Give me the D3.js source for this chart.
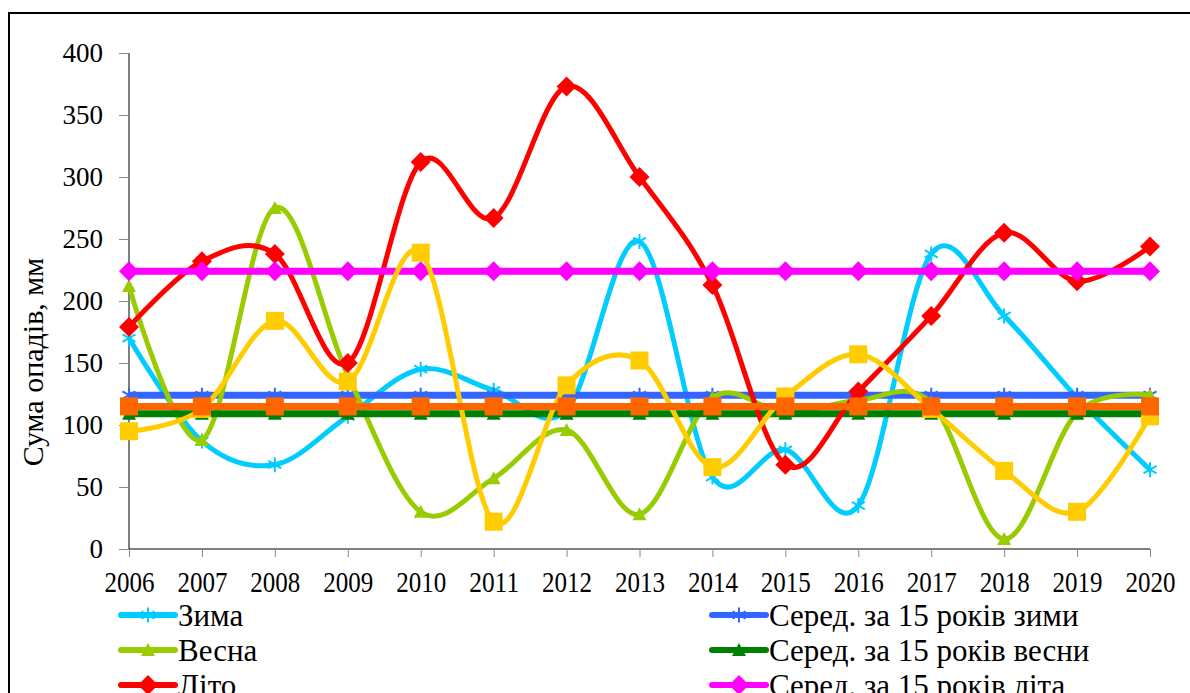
<!DOCTYPE html>
<html>
<head>
<meta charset="utf-8">
<script src="https://cdn.jsdelivr.net/npm/d3@7"></script>
<style>
  body { margin: 0; background: #fff; overflow: hidden; }
</style>
</head>
<body>
<div id="chart"></div>
<script>
// precipitation by season, 2006-2020
const years = ['2006', '2007', '2008', '2009', '2010', '2011', '2012', '2013',
  '2014', '2015', '2016', '2017', '2018', '2019', '2020'];

const zyma = [170, 87, 68, 107, 145, 128, 112, 248, 58, 80, 35, 238, 188, 122, 64];
const vesna = [212, 88, 275, 140, 30, 57, 96, 28, 122, 110, 120, 118, 8, 110, 124];
const lito = [179, 232, 238, 150, 312, 267, 373, 300, 213, 68, 127, 188, 255, 216, 244];
const osin = [95, 113, 184, 135, 239, 22, 132, 152, 66, 123, 157, 113, 63, 30, 107];

const avgZyma = [124, 124, 124, 124, 124, 124, 124, 124, 124, 124, 124, 124, 124, 124, 124];
const avgVesna = [109, 109, 109, 109, 109, 109, 109, 109, 109, 109, 109, 109, 109, 109, 109];
const avgLito = [224, 224, 224, 224, 224, 224, 224, 224, 224, 224, 224, 224, 224, 224, 224];
const avgOsin = [115, 115, 115, 115, 115, 115, 115, 115, 115, 115, 115, 115, 115, 115, 115];

const yTicks = [0, 50, 100, 150, 200, 250, 300, 350, 400];

// drawing order as in the original workbook
const series = [
  { name: 'Зима', values: zyma, color: '#00CCFF', marker: 'star', width: 5 },
  { name: 'Серед. за 15 років зими', values: avgZyma, color: '#3366FF', marker: 'star', width: 7 },
  { name: 'Весна', values: vesna, color: '#99CC00', marker: 'triangle', width: 5 },
  { name: 'Серед. за 15 років весни', values: avgVesna, color: '#008000', marker: 'triangle', width: 7 },
  { name: 'Літо', values: lito, color: '#FF0000', marker: 'diamond', width: 5 },
  { name: 'Серед. за 15 років літа', values: avgLito, color: '#FF00FF', marker: 'diamond', width: 7 },
  { name: 'Осінь', values: osin, color: '#FFCC00', marker: 'square', width: 5 },
  { name: 'Серед. за 15 років осені', values: avgOsin, color: '#FF6600', marker: 'square', width: 7 }
];

const legendLeft = ['Зима', 'Весна', 'Літо'];
const legendRight = ['Серед. за 15 років зими', 'Серед. за 15 років весни', 'Серед. за 15 років літа'];

const FONT = "'Liberation Serif'";

const width = 1190;
const height = 693;
const plot = { left: 129, right: 1150, top: 53, bottom: 549 };

const svg = d3.select('#chart').append('svg')
  .attr('width', width)
  .attr('height', height);

// chart area border (runs off the right and bottom edge)
svg.append('rect')
  .attr('x', 9).attr('y', 13)
  .attr('width', 1200).attr('height', 700)
  .attr('fill', '#fff')
  .attr('stroke', '#000')
  .attr('stroke-width', 2);

const x = d3.scalePoint()
  .domain(years)
  .range([plot.left, plot.right]);

const y = d3.scaleLinear()
  .domain([0, 400])
  .range([plot.bottom, plot.top]);

// y axis
const yAxis = svg.append('g')
  .attr('transform', 'translate(' + plot.left + ',0)')
  .call(d3.axisLeft(y).tickValues(yTicks).tickSize(10).tickPadding(16));
yAxis.select('.domain').attr('stroke', '#000').attr('d', 'M0,' + plot.top + 'V' + plot.bottom);
yAxis.selectAll('.tick line').attr('stroke', '#888');
yAxis.selectAll('.tick text')
  .attr('fill', '#000')
  .style('font-family', FONT)
  .style('font-size', '27px');

// x axis
const xAxis = svg.append('g')
  .attr('transform', 'translate(0,' + plot.bottom + ')')
  .call(d3.axisBottom(x).tickSize(8));
xAxis.select('.domain').attr('stroke', '#000').attr('d', 'M' + plot.left + ',0H' + plot.right);
xAxis.selectAll('.tick line').attr('stroke', '#888');
xAxis.selectAll('.tick text')
  .attr('fill', '#000')
  .attr('y', 43)
  .attr('dy', null)
  .attr('textLength', 50)
  .attr('lengthAdjust', 'spacingAndGlyphs')
  .style('font-family', FONT)
  .style('font-size', '29px');

// axis title
svg.append('text')
  .attr('transform', 'translate(43,362) rotate(-90)')
  .attr('text-anchor', 'middle')
  .style('font-family', FONT)
  .style('font-size', '30px')
  .text('Сума опадів, мм');

function markerPath(type) {
  if (type === 'star') {
    const r = 7.5, dx = r * Math.cos(Math.PI / 6), dy = r * Math.sin(Math.PI / 6);
    return 'M0,' + -r + 'V' + r +
      'M' + -dx + ',' + -dy + 'L' + dx + ',' + dy +
      'M' + -dx + ',' + dy + 'L' + dx + ',' + -dy;
  }
  if (type === 'triangle') return 'M0,-7L7,6H-7Z';
  if (type === 'diamond') return 'M0,-10L10,0L0,10L-10,0Z';
  return 'M-9,-9H9V9H-9Z';
}

function drawMarker(sel, s) {
  sel.append('path')
    .attr('d', markerPath(s.marker))
    .attr('fill', s.marker === 'star' ? 'none' : s.color)
    .attr('stroke', s.color)
    .attr('stroke-width', s.marker === 'star' ? 2 : 0);
}

const line = d3.line()
  .x((d, i) => x(years[i]))
  .y(d => y(d))
  .curve(d3.curveCardinal.tension(0));

const lines = svg.append('g');
series.forEach(s => {
  const g = lines.append('g');
  g.append('path')
    .datum(s.values)
    .attr('d', line)
    .attr('fill', 'none')
    .attr('stroke', s.color)
    .attr('stroke-width', s.width)
    .attr('stroke-linejoin', 'round');
  g.selectAll('.pt')
    .data(s.values)
    .join('g')
    .attr('class', 'pt')
    .attr('transform', (d, i) => 'translate(' + x(years[i]) + ',' + y(d) + ')')
    .each(function () { drawMarker(d3.select(this), s); });
});

// legend
function drawLegend(names, x0, y0) {
  names.forEach((name, i) => {
    const s = series.find(d => d.name === name);
    const g = svg.append('g').attr('transform', 'translate(' + x0 + ',' + (y0 + i * 35) + ')');
    g.append('line')
      .attr('x1', 0).attr('x2', 54)
      .attr('stroke', s.color)
      .attr('stroke-width', 6)
      .attr('stroke-linecap', 'round');
    const m = g.append('g').attr('transform', 'translate(27,0)');
    drawMarker(m, s);
    g.append('text')
      .attr('x', 57)
      .attr('dy', '0.35em')
      .style('font-family', FONT)
      .style('font-size', '31px')
      .text(name);
  });
}
drawLegend(legendLeft, 121, 615);
drawLegend(legendRight, 712, 615);
</script>
</body>
</html>
